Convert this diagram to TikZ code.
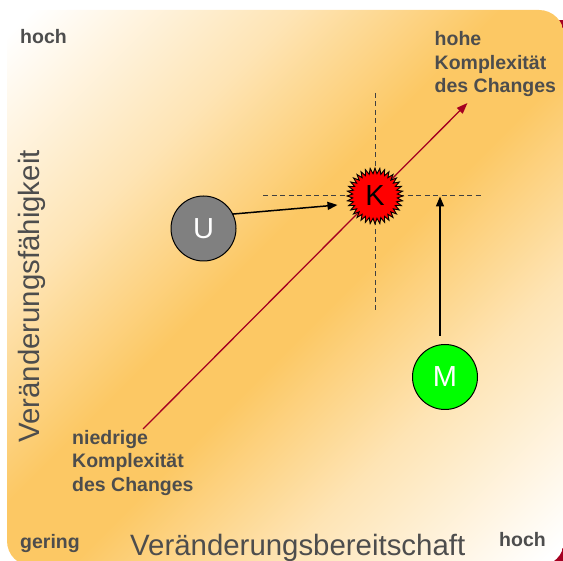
\documentclass[tikz,border=0pt]{standalone}
\usepackage{fontspec}
\setmainfont{Liberation Sans}
\usetikzlibrary{arrows.meta,shapes.geometric}
\definecolor{bgor}{RGB}{252,200,100}
\definecolor{bgmid}{RGB}{254,228,180}
\definecolor{txtgray}{RGB}{77,77,77}
\definecolor{darkred}{RGB}{165,0,33}
\definecolor{ugray}{RGB}{128,128,128}
\definecolor{mgreen}{RGB}{0,255,0}
\definecolor{dashgray}{RGB}{64,64,64}
\pgfdeclarehorizontalshading{bgshade}{100bp}{color(0bp)=(white); color(16bp)=(white); color(33bp)=(bgmid); color(46bp)=(bgor); color(54bp)=(bgor); color(67bp)=(bgmid); color(84bp)=(white); color(100bp)=(white)}
\tikzset{
  lbl/.style={font=\bfseries\fontsize{19.5}{23.5}\selectfont, text=txtgray, inner sep=0pt},
  axislbl/.style={font=\fontsize{29.4}{30}\selectfont, text=txtgray, inner sep=0pt},
  ball/.style={circle, draw=black, line width=1pt, minimum size=65pt, inner sep=0pt, text=white, font=\fontsize{29}{29}\selectfont},
  starK/.style={star, star points=36, star point ratio=1.25, minimum size=56pt, inner sep=0pt, fill=red, draw=black, line width=0.9pt, font=\fontsize{29}{29}\selectfont},
  guide/.style={draw=dashgray, line width=1pt, dash pattern=on 5pt off 3.5pt},
  redarrow/.style={draw=darkred, line width=1.3pt, -{Triangle[length=11pt,width=8pt]}},
  blkarrow/.style={draw=black, line width=1.5pt, -{Triangle[length=10pt,width=8pt]}}
}
\begin{document}
\begin{tikzpicture}[x=1pt,y=-1pt]
\useasboundingbox (0,0) rectangle (563,561);
% background
\fill[darkred] (400,20) rectangle (580,580);
\shade[shading=bgshade, shading angle=-45, rounded corners=25pt] (7,10) rectangle (564,566);
% guide lines
\coordinate (gl) at (263,196);
\coordinate (gr) at (483,196);
\coordinate (gt) at (375,93);
\coordinate (gb) at (375,313);
\draw[guide] (gl) -- (gr);
\draw[guide] (gt) -- (gb);
% diagonal
\coordinate (lowc) at (143,429);
\coordinate (highc) at (467.5,103);
\draw[redarrow] (lowc) -- (highc);
% nodes
\node[starK] (K) at (375,196) {K};
\node[ball, fill=ugray] (U) at (203.5,228.5) {U};
\node[ball, fill=mgreen] (M) at (445,377) {M};
% arrows
\coordinate (kin) at (337.5,205);
\draw[blkarrow] (U.26) -- (kin);
\coordinate (mstart) at (440,336);
\coordinate (mend) at (440,196.5);
\draw[blkarrow] (mstart) -- (mend);
% labels
\node[lbl, anchor=base west] (hochY) at (20,44) {hoch};
\node[lbl, anchor=base west] (hoheK) at (434.5,45.6) {\begin{tabular}[t]{@{}l@{}}hohe\\Komplexität\\des Changes\end{tabular}};
\node[lbl, anchor=base west] (niedK) at (72,444.5) {\begin{tabular}[t]{@{}l@{}}niedrige\\Komplexität\\des Changes\end{tabular}};
\node[lbl, anchor=base west] (gering) at (20,548) {gering};
\node[lbl, anchor=base west] (hochX) at (499,546.5) {hoch};
\node[axislbl, anchor=base west] (xlab) at (130,555) {Veränderungsbereitschaft};
\node[axislbl, rotate=90, anchor=base west] (ylab) at (39,443) {Veränderungsfähigkeit};
\end{tikzpicture}
\end{document}
